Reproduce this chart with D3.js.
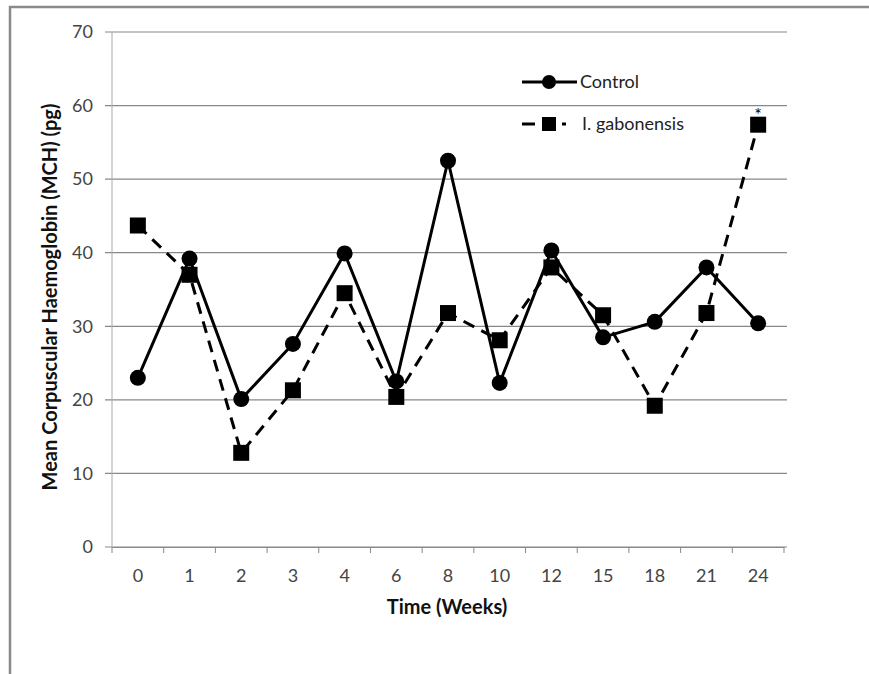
<!DOCTYPE html>
<html>
<head>
<meta charset="utf-8">
<script src="https://cdn.jsdelivr.net/npm/d3@7"></script>
<style>
  html, body { margin: 0; background: #fff; overflow: hidden; }
  svg { display: block; font-family: Lato, "Open Sans", sans-serif; }
</style>
</head>
<body>
<svg width="869" height="674"></svg>
<script>

// Datos
let semanas = ['0', '1', '2', '3', '4', '6', '8', '10', '12', '15', '18', '21', '24']
let control = [23.0, 39.2, 20.1, 27.6, 39.9, 22.5, 52.5, 22.3, 40.3, 28.5, 30.6, 38.0, 30.4]
let gabonensis = [43.7, 37.0, 12.8, 21.3, 34.5, 20.4, 31.8, 28.1, 38.0, 31.5, 19.2, 31.8, 57.4]
let yTicks = [0, 10, 20, 30, 40, 50, 60, 70]
let marcas = [{semana: '24', texto: '*'}]


let svg = d3.select('svg')

// marco (solo izquierda y arriba se ven en el original)
svg.append('path')
  .attr('d', 'M10,674 L10,7 L869,7')
  .attr('fill', 'none')
  .attr('stroke', '#8a8a8a')
  .attr('stroke-width', 2.5)

let m = {left: 112, right: 784, top: 32, bottom: 547}

let x = d3.scaleBand().domain(semanas).range([m.left, m.right])
let y = d3.scaleLinear().domain([0, 70]).range([m.bottom, m.top])

/* Rejilla */
svg.append('g')
  .selectAll('line')
  .data(yTicks)
  .enter().append('line')
    .attr('x1', m.left - 7).attr('x2', m.right + 3)
    .attr('y1', d => y(d)).attr('y2', d => y(d))
    .attr('stroke', '#888')
    .attr('stroke-width', 1.2)

// eje y
svg.append('line')
  .attr('x1', m.left).attr('x2', m.left)
  .attr('y1', m.top).attr('y2', m.bottom)
  .attr('stroke', '#aaa')

let ejeY = svg.append('g')
  .attr('transform', `translate(${m.left - 7},0)`)
  .call(d3.axisLeft(y).tickValues(yTicks).tickSize(0).tickPadding(12))
ejeY.select('.domain').remove()
ejeY.selectAll('text')
  .attr('font-size', 18)
  .attr('fill', '#444')
  .attr('font-family', 'Lato, sans-serif')

// eje x
let ejeX = svg.append('g')
  .attr('transform', `translate(0,${m.bottom})`)
  .call(d3.axisBottom(x).tickSize(0).tickPadding(22))
ejeX.select('.domain')
  .attr('stroke', '#888')
  .attr('stroke-width', 1.2)
ejeX.selectAll('text')
  .attr('font-size', 18)
  .attr('fill', '#444')
  .attr('font-family', 'Lato, sans-serif')

// marcas entre categorías
svg.append('g')
  .selectAll('line')
  .data(semanas.concat(['fin']))
  .enter().append('line')
    .attr('x1', (d, i) => m.left + i * x.step())
    .attr('x2', (d, i) => m.left + i * x.step())
    .attr('y1', m.bottom).attr('y2', m.bottom + 6)
    .attr('stroke', '#888')

// títulos
svg.append('text')
  .attr('x', 447).attr('y', 614)
  .attr('text-anchor', 'middle')
  .attr('font-size', 20).attr('font-weight', 'bold')
  .attr('fill', '#111')
  .text('Time (Weeks)')

svg.append('text')
  .attr('transform', 'translate(57,297) rotate(-90)')
  .attr('text-anchor', 'middle')
  .attr('font-size', 20).attr('font-weight', 'bold')
  .attr('fill', '#111')
  .text('Mean Corpuscular Haemoglobin (MCH) (pg)')


/* Series */
let cx = d => x(d) + x.bandwidth() / 2

let linea = d3.line()
  .x(d => cx(d[0]))
  .y(d => y(d[1]))

let datosC = d3.zip(semanas, control)
let datosG = d3.zip(semanas, gabonensis)

svg.append('path')
  .datum(datosG)
  .attr('d', linea)
  .attr('fill', 'none')
  .attr('stroke', '#000')
  .attr('stroke-width', 3)
  .attr('stroke-dasharray', '12,8')

svg.append('path')
  .datum(datosC)
  .attr('d', linea)
  .attr('fill', 'none')
  .attr('stroke', '#000')
  .attr('stroke-width', 3)

svg.append('g')
  .selectAll('rect')
  .data(datosG)
  .enter().append('rect')
    .attr('x', d => cx(d[0]) - 8)
    .attr('y', d => y(d[1]) - 8)
    .attr('width', 16).attr('height', 16)
    .attr('fill', '#000')

svg.append('g')
  .selectAll('circle')
  .data(datosC)
  .enter().append('circle')
    .attr('cx', d => cx(d[0]))
    .attr('cy', d => y(d[1]))
    .attr('r', 8)
    .attr('fill', '#000')

// asterisco
svg.append('g')
  .selectAll('text')
  .data(marcas)
  .enter().append('text')
    .attr('x', d => cx(d.semana))
    .attr('y', d => y(gabonensis[semanas.indexOf(d.semana)]) - 4)
    .attr('text-anchor', 'middle')
    .attr('font-size', 18)
    .attr('fill', '#000')
    .text(d => d.texto)


/* Leyenda */
let ley = svg.append('g').attr('transform', 'translate(522,0)')

ley.append('line')
  .attr('x1', 0).attr('x2', 55).attr('y1', 82).attr('y2', 82)
  .attr('stroke', '#000').attr('stroke-width', 3)
ley.append('circle')
  .attr('cx', 27).attr('cy', 82).attr('r', 7).attr('fill', '#000')
ley.append('text')
  .attr('x', 58).attr('y', 88)
  .attr('font-size', 18).attr('fill', '#222')
  .text('Control')

ley.append('line')
  .attr('x1', 0).attr('x2', 44).attr('y1', 124).attr('y2', 124)
  .attr('stroke', '#000').attr('stroke-width', 3)
  .attr('stroke-dasharray', '13,7')
ley.append('rect')
  .attr('x', 20).attr('y', 117).attr('width', 14).attr('height', 14)
  .attr('fill', '#000')
ley.append('text')
  .attr('x', 60).attr('y', 130)
  .attr('font-size', 18).attr('fill', '#222')
  .text('I. gabonensis')

</script>
</body>
</html>
